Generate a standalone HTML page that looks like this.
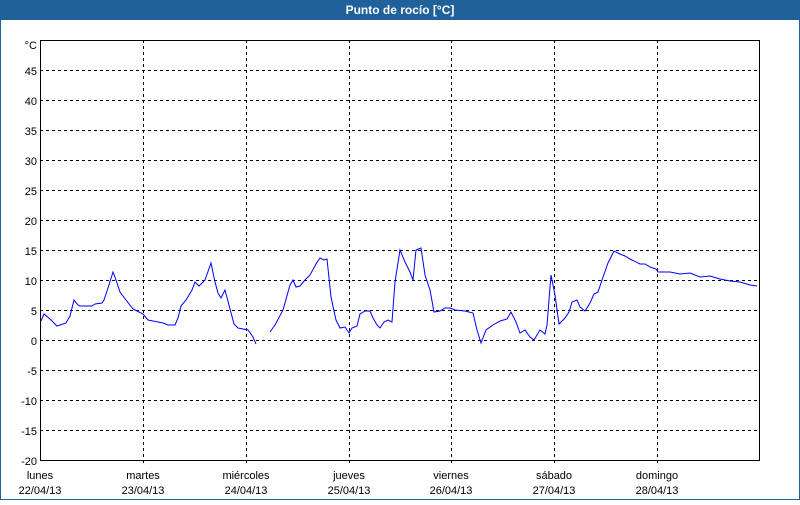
<!DOCTYPE html>
<html><head><meta charset="utf-8"><style>
body{margin:0;width:800px;height:500px;overflow:hidden;background:#fff;font-family:"Liberation Sans",sans-serif}
</style></head><body>
<svg width="800" height="500" xmlns="http://www.w3.org/2000/svg" font-family="Liberation Sans, sans-serif" font-size="11">
<rect x="0.5" y="0.5" width="799" height="499" fill="#fdfefd" stroke="#1f6198"/>
<rect x="0" y="0" width="800" height="20" fill="#1f6198"/>
<text x="400" y="14" fill="#fff" font-weight="bold" font-size="12" text-anchor="middle">Punto de rocío [°C]</text>
<g stroke="#000" stroke-dasharray="3,3" stroke-width="1">
<line x1="40" x2="760" y1="70.5" y2="70.5"/><line x1="40" x2="760" y1="100.5" y2="100.5"/>
<line x1="40" x2="760" y1="130.5" y2="130.5"/><line x1="40" x2="760" y1="160.5" y2="160.5"/>
<line x1="40" x2="760" y1="190.5" y2="190.5"/><line x1="40" x2="760" y1="220.5" y2="220.5"/>
<line x1="40" x2="760" y1="250.5" y2="250.5"/><line x1="40" x2="760" y1="280.5" y2="280.5"/>
<line x1="40" x2="760" y1="310.5" y2="310.5"/><line x1="40" x2="760" y1="340.5" y2="340.5"/>
<line x1="40" x2="760" y1="370.5" y2="370.5"/><line x1="40" x2="760" y1="400.5" y2="400.5"/>
<line x1="40" x2="760" y1="430.5" y2="430.5"/>
<line x1="143.5" x2="143.5" y1="40" y2="466"/><line x1="246.5" x2="246.5" y1="40" y2="466"/>
<line x1="349.5" x2="349.5" y1="40" y2="466"/><line x1="451.5" x2="451.5" y1="40" y2="466"/>
<line x1="554.5" x2="554.5" y1="40" y2="466"/><line x1="657.5" x2="657.5" y1="40" y2="466"/>
</g>
<rect x="40.5" y="40.5" width="719" height="420" fill="none" stroke="#000"/>
<g text-anchor="end" fill="#000">
<text x="37" y="49">°C</text><text x="37" y="75">45</text><text x="37" y="105">40</text>
<text x="37" y="135">35</text><text x="37" y="165">30</text><text x="37" y="195">25</text>
<text x="37" y="225">20</text><text x="37" y="255">15</text><text x="37" y="285">10</text>
<text x="37" y="315">5</text><text x="37" y="345">0</text><text x="37" y="375">-5</text>
<text x="37" y="405">-10</text><text x="37" y="435">-15</text><text x="37" y="465">-20</text>
</g>
<g text-anchor="middle" fill="#000">
<text x="40" y="479">lunes</text><text x="40" y="494">22/04/13</text>
<text x="143" y="479">martes</text><text x="143" y="494">23/04/13</text>
<text x="246" y="479">miércoles</text><text x="246" y="494">24/04/13</text>
<text x="349" y="479">jueves</text><text x="349" y="494">25/04/13</text>
<text x="451" y="479">viernes</text><text x="451" y="494">26/04/13</text>
<text x="554" y="479">sábado</text><text x="554" y="494">27/04/13</text>
<text x="657" y="479">domingo</text><text x="657" y="494">28/04/13</text>
</g>
<g fill="none" stroke="#0000ff" stroke-width="1">
<polyline points="41,321 44,314 50,319 57,326 60,325 66,323 70,316 74,300 78,305 80,306 92,306 95,304 102,303 104,300 108,288 113,272 116,280 120,292 126,300 133,309 143,314 148,320 153,321 163,323 168,325 175,325 178,318 181,306 186,300 192,290 195,282 199,286 205,280 211,263 215,282 218,293 221,298 225,290 229,305 234,324 238,328 248,330 253,337 256,344"/>
<polyline points="270,332 275,325 283,310 290,285 293,280 296,287 300,286 305,280 310,275 316,264 320,258 324,260 327,259 331,297 336,320 340,328 345,327 349,333 352,328 357,326 360,314 365,311 370,311 373,318 377,325 380,328 384,322 388,320 392,322 395,282 400,250 405,262 410,272 413,280 416,250 421,248 425,275 430,290 434,312 440,311 445,308 450,308 455,310 465,311 473,313 477,330 481,343 486,330 493,325 500,321 507,319 511,312 516,322 520,333 525,330 530,337 534,340 540,330 545,334 547,325 551,275 555,295 559,324 565,318 569,312 572,302 577,300 580,307 585,311 590,303 594,294 598,292 602,280 608,263 614,251 620,254 625,256 630,259 640,264 645,264 650,267 656,269 658,272 670,272 680,274 690,273 700,277 710,276 720,279 730,281 740,282 750,285 757,286"/>
</g>
</svg>
</body></html>
